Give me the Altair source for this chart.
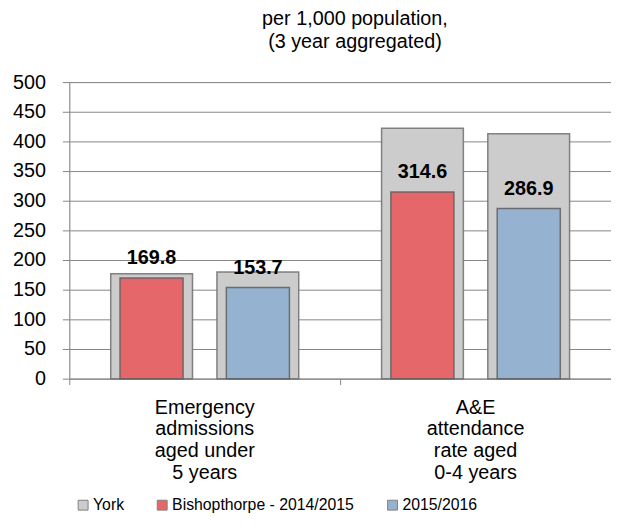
import altair as alt
import pandas as pd

categories = ["Emergency\nadmissions\naged under\n5 years", "A&E\nattendance\nrate aged\n0-4 years"]
years = ["2014/2015", "2015/2016"]
york_values = {"2014/2015": [177.0, 422.0], "2015/2016": [180.0, 413.0]}
bishopthorpe_values = {"2014/2015": [169.8, 314.6], "2015/2016": [153.7, 286.9]}
series_names = ["York", "Bishopthorpe - 2014/2015", "2015/2016"]
bishop_series = {"2014/2015": "Bishopthorpe - 2014/2015", "2015/2016": "2015/2016"}
series_colors = ["#CCCCCC", "#E5676A", "#95B3D0"]
y_ticks = [0, 50, 100, 150, 200, 250, 300, 350, 400, 450, 500]

york_rows = []
bishop_rows = []
for i, cat in enumerate(categories):
    for yr in years:
        york_rows.append({"category": cat, "year": yr, "value": york_values[yr][i], "series": "York"})
        bishop_rows.append({"category": cat, "year": yr, "value": bishopthorpe_values[yr][i],
                            "series": bishop_series[yr], "label": f"{bishopthorpe_values[yr][i]:.1f}"})
york_df = pd.DataFrame(york_rows)
bishop_df = pd.DataFrame(bishop_rows)

FONT = "Liberation Sans"
GRID = "#868686"

x_enc = alt.X("category:N", sort=categories,
              scale=alt.Scale(paddingInner=0, paddingOuter=0),
              axis=alt.Axis(title=None, labelAngle=0, labelExpr="split(datum.label, '\\n')",
                            bandPosition=0, tickSize=6, tickColor=GRID, domainColor=GRID,
                            labelFont=FONT, labelFontSize=20, labelColor="#000000",
                            labelPadding=13, labelLineHeight=22, grid=False))
york_offset = alt.XOffset("year:N", sort=years, scale=alt.Scale(paddingInner=0.23, paddingOuter=0.39))
bishop_offset = alt.XOffset("year:N", sort=years, scale=alt.Scale(paddingInner=0.407, paddingOuter=0.477))
label_offset = alt.XOffset("year:N", sort=years, scale=alt.Scale(type="point", padding=0.7735))
y_enc = alt.Y("value:Q", scale=alt.Scale(domain=[0, 500], nice=False),
              axis=alt.Axis(title=None, values=y_ticks, grid=True, gridColor=GRID, gridOpacity=1,
                            tickSize=7, tickColor=GRID, domainColor=GRID,
                            labelFont=FONT, labelFontSize=20, labelColor="#000000", labelPadding=17))
color_enc = alt.Color("series:N", sort=series_names,
                      scale=alt.Scale(domain=series_names, range=series_colors),
                      legend=alt.Legend(title=None, orient="none", direction="horizontal",
                                        legendX=6, legendY=420, symbolType="square", symbolSize=100,
                                        symbolStrokeColor="#7F7F7F", symbolStrokeWidth=1,
                                        labelFont=FONT, labelFontSize=16, labelColor="#000000",
                                        labelLimit=0, columnPadding=30, labelOffset=2))

york_bars = alt.Chart(york_df).mark_bar(stroke="#6E6E6E", strokeWidth=1.5, strokeOpacity=0.85).encode(
    x=x_enc, xOffset=york_offset, y=y_enc, color=color_enc)

bishop_bars = alt.Chart(bishop_df).mark_bar(stroke="#5E5E5E", strokeWidth=1.5, strokeOpacity=0.85).encode(
    x=x_enc, xOffset=bishop_offset, y=y_enc, color=color_enc)

labels = alt.Chart(bishop_df).mark_text(font=FONT, fontSize=20, fontWeight="bold", color="#000000",
                                        baseline="alphabetic", align="center", dy=-14).encode(
    x=x_enc, xOffset=label_offset, y=y_enc, text="label:N")

chart = alt.layer(york_bars, bishop_bars, labels).resolve_scale(xOffset="independent").properties(
    width=548, height=300,
    autosize=alt.AutoSizeParams(type="none"),
    padding={"left": 62, "top": 72, "right": 0, "bottom": 136},
    title=alt.TitleParams(["per 1,000 population,", "(3 year aggregated)"], font=FONT, fontSize=20,
                          fontWeight="normal", color="#000000", anchor="middle", dx=15,
                          offset=20, lineHeight=24),
).configure_view(stroke=None).configure(background="#FFFFFF")

chart.save("out.html", embed_options={"renderer": "svg", "actions": False})
